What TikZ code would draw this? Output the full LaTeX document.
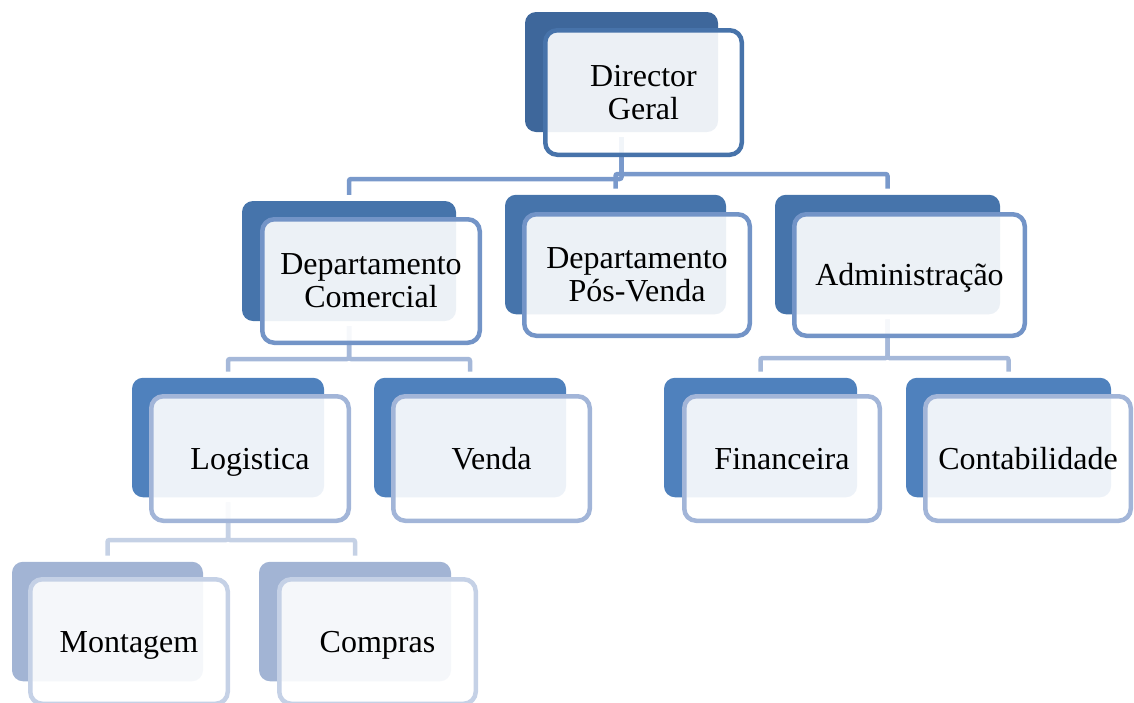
\documentclass[tikz,border=0pt]{standalone}
\usepackage{fontspec}
\setmainfont{Liberation Serif}
\definecolor{cAback}{RGB}{62,103,155}
\definecolor{cAfront}{RGB}{71,115,170}
\definecolor{cBback}{RGB}{70,116,171}
\definecolor{cBfront}{RGB}{115,148,199}
\definecolor{cBconn}{RGB}{121,153,203}
\definecolor{cCback}{RGB}{79,129,189}
\definecolor{cCfront}{RGB}{162,181,216}
\definecolor{cCconn}{RGB}{165,184,217}
\definecolor{cDback}{RGB}{162,180,212}
\definecolor{cDfront}{RGB}{197,209,230}
\definecolor{cDconn}{RGB}{197,209,229}
\tikzset{
  backbox/.style={rounded corners=11pt, draw=none, inner sep=0pt, minimum height=119.5pt},
  frontbox/.style={rounded corners=12pt, fill=white, fill opacity=0.9, text opacity=1,
    line width=4.5pt, inner sep=0pt, align=center, text=black,
    font=\fontsize{32}{33}\selectfont},
  oneline/.style={text height=21pt, text depth=0pt},
  conn/.style={line width=4.5pt, rounded corners=2pt, shorten <=5pt, shorten >=6pt}
}
\begin{document}
\begin{tikzpicture}[x=1pt,y=-1pt]
\useasboundingbox (0,0) rectangle (1134,702);
% back rectangles
\node[backbox, fill=cAback, minimum width=193pt, minimum height=120pt] (Db) at (621.5,72) {};
\node[backbox, fill=cBback, minimum width=214pt, minimum height=120pt] (Cb) at (349,261) {};
\node[backbox, fill=cBback, minimum width=221pt] (Pb) at (615.5,254.5) {};
\node[backbox, fill=cBback, minimum width=225pt] (Ab) at (887.5,254.5) {};
\node[backbox, fill=cCback, minimum width=192pt] (Lb) at (228,437.5) {};
\node[backbox, fill=cCback, minimum width=192pt] (Vb) at (470,437.5) {};
\node[backbox, fill=cCback, minimum width=193pt] (Fb) at (760.5,437.5) {};
\node[backbox, fill=cCback, minimum width=205pt] (Tb) at (1008.5,437.5) {};
\node[backbox, fill=cDback, minimum width=191pt] (Mb) at (107.5,621.5) {};
\node[backbox, fill=cDback, minimum width=192pt] (Ob) at (355,621.5) {};
% levels of the elbow connectors
\coordinate (yA) at (0,179);
\coordinate (yB) at (0,174);
\coordinate (yC) at (0,359);
\coordinate (yD) at (0,358);
\coordinate (yE) at (0,540);
% connectors
\draw[conn, cBconn] (Db.south) |- (Cb.north |- yA) -- (Cb.north);
\draw[conn, cBconn] (Db.south) |- (Pb.north |- yB) -- (Pb.north);
\draw[conn, cBconn] (Db.south) |- (Ab.north |- yB) -- (Ab.north);
\draw[conn, cCconn] (Cb.south) |- (Lb.north |- yC) -- (Lb.north);
\draw[conn, cCconn] (Cb.south) |- (Vb.north |- yC) -- (Vb.north);
\draw[conn, cCconn] (Ab.south) |- (Fb.north |- yD) -- (Fb.north);
\draw[conn, cCconn] (Ab.south) |- (Tb.north |- yD) -- (Tb.north);
\draw[conn, cDconn] (Lb.south) |- (Mb.north |- yE) -- (Mb.north);
\draw[conn, cDconn] (Lb.south) |- (Ob.north |- yE) -- (Ob.north);
% front rectangles with text
\node[frontbox, draw=cAfront, minimum width=196.5pt, minimum height=124.5pt] (D) at (643.5,92.5) {Director\\Geral};
\node[frontbox, draw=cBfront, minimum width=217.5pt, minimum height=123.5pt] (C) at (371,281) {Departamento\\Comercial};
\node[frontbox, draw=cBfront, minimum width=225.5pt, minimum height=121.5pt] (P) at (637,275) {Departamento\\Pós-Venda};
\node[frontbox, oneline, draw=cBfront, minimum width=230.5pt, minimum height=121.5pt] (A) at (909.5,275) {Administração};
\node[frontbox, oneline, draw=cCfront, minimum width=197.5pt, minimum height=124.5pt] (L) at (250,458.5) {Logistica};
\node[frontbox, oneline, draw=cCfront, minimum width=196.5pt, minimum height=124.5pt] (V) at (491.5,458.5) {Venda};
\node[frontbox, oneline, draw=cCfront, minimum width=195.5pt, minimum height=124.5pt] (F) at (782,458.5) {Financeira};
\node[frontbox, oneline, draw=cCfront, minimum width=205.5pt, minimum height=124.5pt] (T) at (1028,458.5) {Contabilidade};
\node[frontbox, oneline, draw=cDfront, minimum width=197.5pt, minimum height=124.5pt] (M) at (129,641.5) {Montagem};
\node[frontbox, oneline, draw=cDfront, minimum width=196.5pt, minimum height=124.5pt] (O) at (377.5,641.5) {Compras};
\end{tikzpicture}
\end{document}
